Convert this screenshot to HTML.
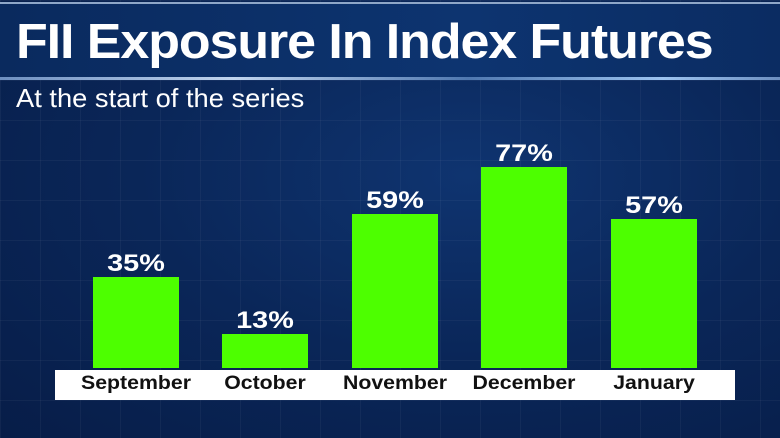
<!DOCTYPE html>
<html><head><style>
body{margin:0;width:780px;height:438px;overflow:hidden;background:radial-gradient(ellipse at 60% 40%,#0f3470 0%,#0a2658 50%,#071d48 100%);font-family:"Liberation Sans",sans-serif;position:relative}
.grid{position:absolute;inset:0;background-image:linear-gradient(rgba(255,255,255,0.04) 1px,transparent 1px),linear-gradient(90deg,rgba(255,255,255,0.04) 1px,transparent 1px);background-size:40px 40px}
.band{position:absolute;left:0;top:2px;width:780px;height:74px;background:linear-gradient(90deg,#0a2a5e,#0d3470 60%,#0b2c62);border-top:2px solid #8fa7c8}
.line{position:absolute;left:0;top:77px;width:780px;height:3px;background:linear-gradient(90deg,#6d8fc0,#c0d4ee 30%,#4f78b0 60%,#9cc3f0 85%,#6d8fc0)}
.title{position:absolute;left:16px;top:14px;color:#fff;font-weight:bold;font-size:49px;line-height:56px;white-space:nowrap;transform:scaleX(1.06);transform-origin:left;letter-spacing:-1px}
.sub{position:absolute;left:16px;top:83px;color:#fff;font-size:26px;line-height:30px;white-space:nowrap;transform:scaleX(1.05);transform-origin:left}
.bar{position:absolute;width:86px;background:#4dff00}
.val{position:absolute;width:86px;text-align:center;color:#fff;font-size:24px;font-weight:bold;transform:scaleX(1.2)}
.axis{position:absolute;left:55px;top:370px;width:680px;height:30px;background:#fff}
.lab{position:absolute;top:373px;width:130px;text-align:center;font-weight:bold;font-size:19px;color:#111;transform:scaleX(1.12)}
</style></head><body>
<div class="grid"></div>
<div class="band"></div><div class="line"></div>
<div class="title">FII Exposure In Index Futures</div>
<div class="sub">At the start of the series</div>
<div class="bar" style="left:93px;top:277px;height:91px"></div>
<div class="bar" style="left:222px;top:334px;height:34px"></div>
<div class="bar" style="left:352px;top:214px;height:154px"></div>
<div class="bar" style="left:481px;top:167px;height:201px"></div>
<div class="bar" style="left:611px;top:219px;height:149px"></div>
<div class="val" style="left:93px;top:250px">35%</div>
<div class="val" style="left:222px;top:307px">13%</div>
<div class="val" style="left:352px;top:187px">59%</div>
<div class="val" style="left:481px;top:140px">77%</div>
<div class="val" style="left:611px;top:192px">57%</div>
<div class="axis"></div>
<div class="lab" style="left:71px">September</div>
<div class="lab" style="left:200px">October</div>
<div class="lab" style="left:330px">November</div>
<div class="lab" style="left:459px">December</div>
<div class="lab" style="left:589px">January</div>
</body></html>
